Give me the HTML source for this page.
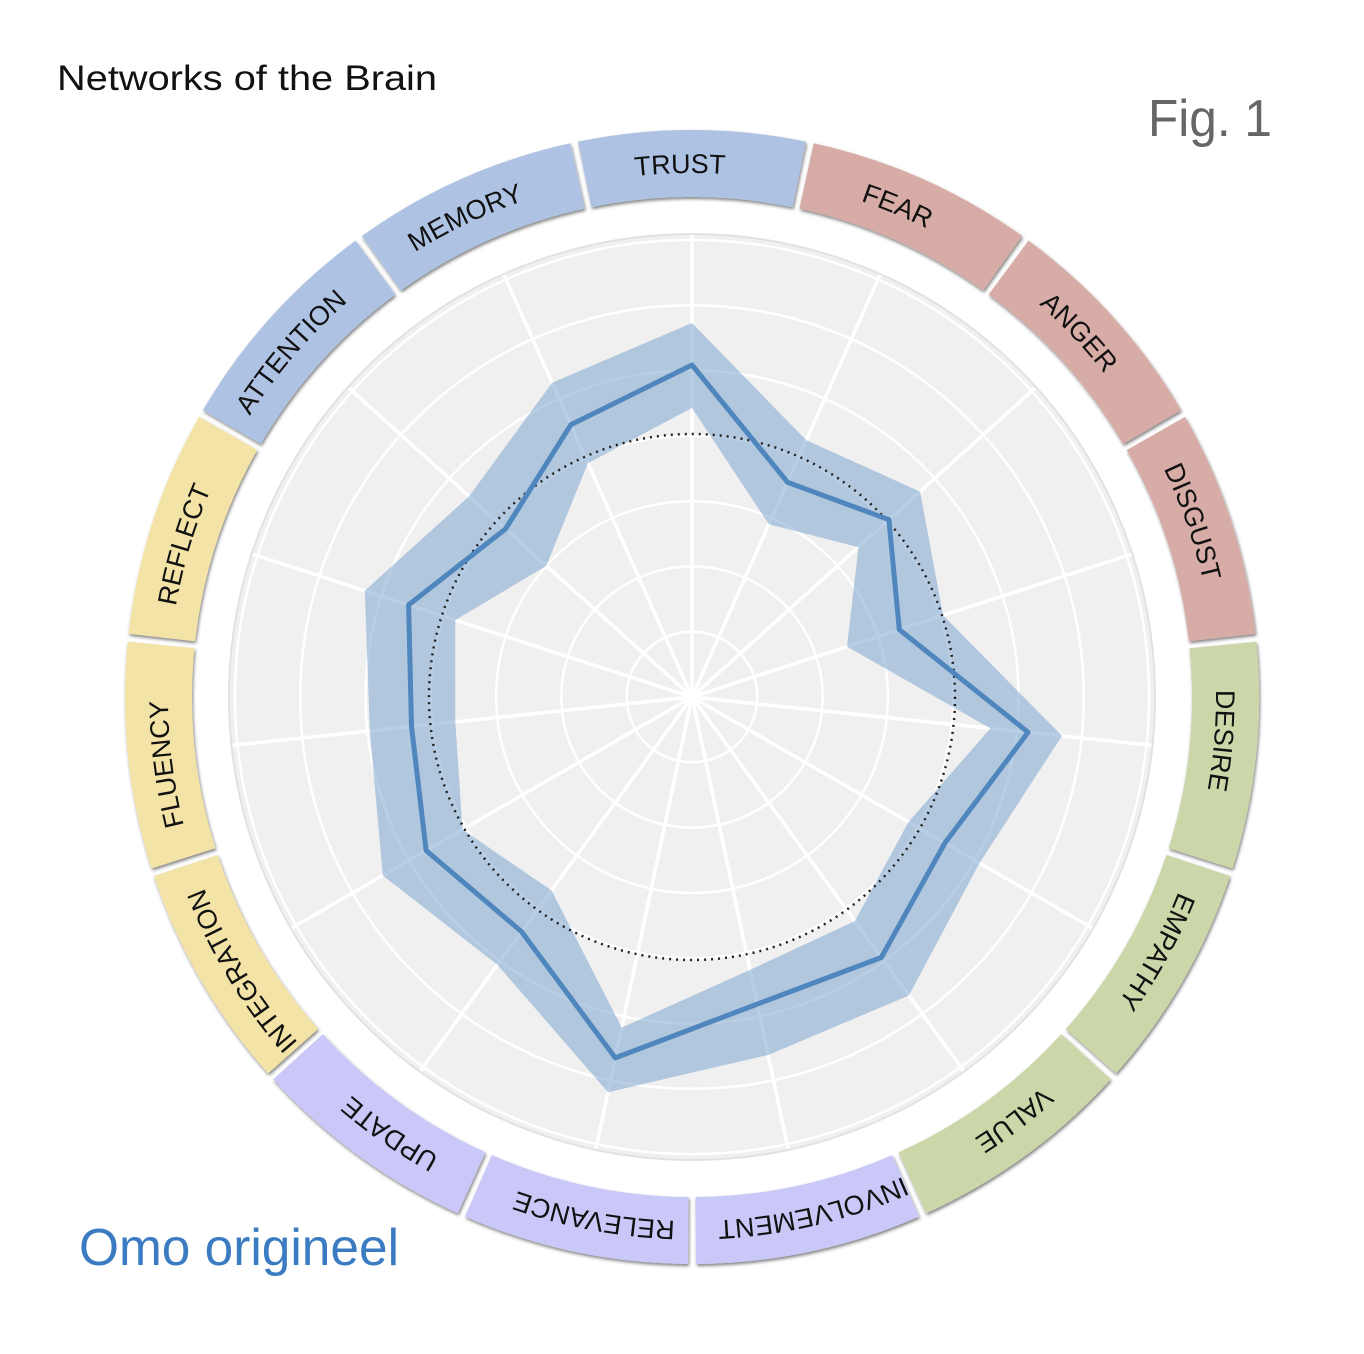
<!DOCTYPE html>
<html><head><meta charset="utf-8"><style>
html,body{margin:0;padding:0;background:#fff;}
svg{display:block;}
</style></head><body>
<svg id="s" width="1364" height="1354" viewBox="0 0 1364 1354" xmlns="http://www.w3.org/2000/svg">
<defs>
<filter id="sh" x="-10%" y="-10%" width="120%" height="120%">
<feDropShadow dx="1" dy="2" stdDeviation="1.5" flood-color="#000" flood-opacity="0.5"/>
</filter>
<path id="lp" d="M692,1221 A524,524 0 0 1 692,173 A524,524 0 0 1 692,1221 A524,524 0 0 1 692,173"/>
</defs>
<rect width="1364" height="1354" fill="#fff"/>
<circle cx="692" cy="697" r="463" fill="#f0f0f0" stroke="#e2e2e2" stroke-width="2"/>
<g id="grid" stroke="#fff" fill="none"></g>
<g id="segs"></g>
<path id="band" fill="#7ea6cf" fill-opacity="0.55" fill-rule="evenodd"/>
<circle cx="692" cy="697" r="263" fill="none" stroke="#222" stroke-width="2.5" stroke-dasharray="2,5"/>
<path id="line" fill="none" stroke="#4f86bd" stroke-width="5" stroke-linejoin="round"/>
<g font-family="Liberation Sans, sans-serif" font-size="27" fill="#111" text-anchor="middle">
<text><textPath href="#lp" startOffset="97.7">RELEVANCE</textPath></text>
<text><textPath href="#lp" startOffset="317.2">UPDATE</textPath></text>
<text><textPath href="#lp" startOffset="536.7">INTEGRATION</textPath></text>
<text><textPath href="#lp" startOffset="756.2">FLUENCY</textPath></text>
<text><textPath href="#lp" startOffset="975.7">REFLECT</textPath></text>
<text><textPath href="#lp" startOffset="1195.2">ATTENTION</textPath></text>
<text><textPath href="#lp" startOffset="1414.7">MEMORY</textPath></text>
<text><textPath href="#lp" startOffset="1634.2">TRUST</textPath></text>
<text><textPath href="#lp" startOffset="1853.7">FEAR</textPath></text>
<text><textPath href="#lp" startOffset="2073.2">ANGER</textPath></text>
<text><textPath href="#lp" startOffset="2292.7">DISGUST</textPath></text>
<text><textPath href="#lp" startOffset="2512.2">DESIRE</textPath></text>
<text><textPath href="#lp" startOffset="2731.7">EMPATHY</textPath></text>
<text><textPath href="#lp" startOffset="2951.1">VALUE</textPath></text>
<text><textPath href="#lp" startOffset="3170.6">INVOLVEMENT</textPath></text>
</g>
<text x="57" y="90" font-family="Liberation Sans, sans-serif" font-size="35" fill="#111" textLength="380" lengthAdjust="spacingAndGlyphs">Networks of the Brain</text>
<text x="1148" y="136" font-family="Liberation Sans, sans-serif" font-size="52" fill="#666" textLength="124" lengthAdjust="spacingAndGlyphs">Fig. 1</text>
<text x="79" y="1265" font-family="Liberation Sans, sans-serif" font-size="52" fill="#3a7bc2" textLength="320" lengthAdjust="spacingAndGlyphs">Omo origineel</text>
</svg>
<script>
var cx=692,cy=697,N='http://www.w3.org/2000/svg';
function pt(a,r){var t=a*Math.PI/180;return [cx+r*Math.sin(t),cy-r*Math.cos(t)];}
var g=document.getElementById('grid');
for(var i=1;i<=7;i++){var c=document.createElementNS(N,'circle');c.setAttribute('cx',cx);c.setAttribute('cy',cy);c.setAttribute('r',i*65.3);c.setAttribute('stroke-width',2.5);g.appendChild(c);}
for(var k=0;k<15;k++){var p=pt(k*24,462);var l=document.createElementNS(N,'line');l.setAttribute('x1',cx);l.setAttribute('y1',cy);l.setAttribute('x2',p[0]);l.setAttribute('y2',p[1]);l.setAttribute('stroke-width',3.5);g.appendChild(l);}
var cols=['#aec3e3','#d8aca6','#d8aca6','#d8aca6','#cbd7a9','#cbd7a9','#cbd7a9','#c9c8f8','#c9c8f8','#c9c8f8','#f3e3a6','#f3e3a6','#f3e3a6','#aec3e3','#aec3e3'];
var sg=document.getElementById('segs');
for(var k=0;k<15;k++){var a0=k*24-12+0.4,a1=k*24+12-0.4,ri=500,ro=567;
var p1=pt(a0,ro),p2=pt(a1,ro),p3=pt(a1,ri),p4=pt(a0,ri);
var d='M'+p1+' A'+ro+','+ro+' 0 0 1 '+p2+' L'+p3+' A'+ri+','+ri+' 0 0 0 '+p4+'Z';
var e=document.createElementNS(N,'path');e.setAttribute('d',d);e.setAttribute('fill',cols[k]);e.setAttribute('filter','url(#sh)');sg.appendChild(e);}
var L=[332,235,265,218,338,292,322,314,369,290,307,282,298,251,298];
var I=[289,189,224,163,300,250,277,279,338,239,265,238,249,196,256];
var O=[374,281,307,264,372,332,369,366,404,331,357,324,344,300,344];
function poly(arr){var s='';for(var k=0;k<15;k++){var p=pt(k*24,arr[k]);s+=(k?'L':'M')+p[0].toFixed(1)+','+p[1].toFixed(1);}return s+'Z';}
document.getElementById('band').setAttribute('d',poly(O)+poly(I));
document.getElementById('line').setAttribute('d',poly(L));
</script>
</body></html>
